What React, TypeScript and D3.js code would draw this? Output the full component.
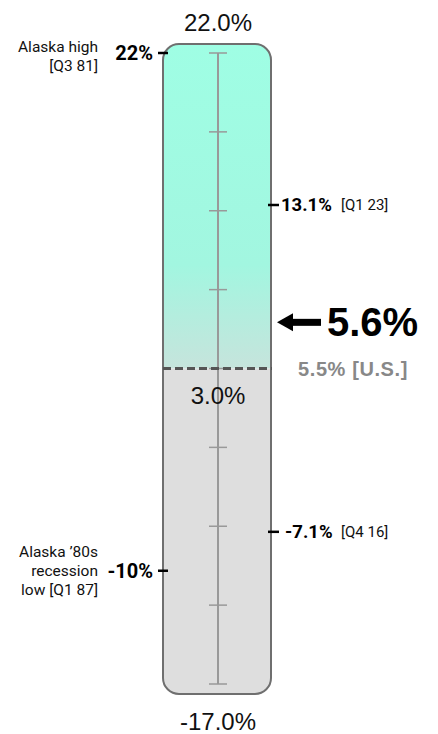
import React from 'react';
import * as d3 from 'd3';

// Scale end points and headline values
const scaleTop = 22;
const scaleBottom = -17;
const fillLevel = 2.5;
const topLabel = '22.0%';
const midLabel = '3.0%';
const bottomLabel = '-17.0%';
const current = 5.6;
const currentLabel = '5.6%';
const usLabel = '5.5% [U.S.]';

// Left side records
const leftValues = [22, -10];
const leftTags = ['22%', '-10%'];
const leftNotes = [['Alaska high', '[Q3 81]'], ['Alaska \u201980s', 'recession', 'low [Q1 87]']];

// Right side recent marks
const rightValues = [13.1, -7.1];
const rightTags = ['13.1%', '-7.1%'];
const rightNotes = ['[Q1 23]', '[Q4 16]'];

const W = 438;
const H = 734;

const App: React.FC = () => {
  const y = d3.scaleLinear().domain([scaleTop, scaleBottom]).range([53, 684]);
  const cx = 218;
  const bx0 = 163;
  const bx1 = 271;
  const tickVals = d3.range(9).map(i => d3.interpolateNumber(scaleTop, scaleBottom)(i / 8));
  const fillY = y(fillLevel);
  const rightShift = 8; // right-hand marks sit a little lower in the original
  const sans = '"Liberation Sans", Arial, sans-serif';
  const rob = 'Roboto, sans-serif';

  return (
    <svg width={W} height={H} style={{ position: 'absolute', left: 0, top: 0 }}>
      <defs>
        <linearGradient id="gr" x1="0" y1="44" x2="0" y2={fillY} gradientUnits="userSpaceOnUse">
          <stop offset="0" stopColor="#9ffee4" />
          <stop offset="0.68" stopColor="#a2f6e0" />
          <stop offset="1" stopColor="#c6e4dc" />
        </linearGradient>
        <clipPath id="tube">
          <rect x={bx0} y={44} width={bx1 - bx0} height={650} rx={16} />
        </clipPath>
      </defs>

      <g clipPath="url(#tube)">
        <rect x={bx0} y={44} width={bx1 - bx0} height={fillY - 44} fill="url(#gr)" />
        <rect x={bx0} y={fillY} width={bx1 - bx0} height={694 - fillY} fill="#dedede" />
      </g>
      <rect x={bx0} y={44} width={bx1 - bx0} height={650} rx={16} fill="none" stroke="#6f6f6f" strokeWidth={2} />

      {/* inner axis */}
      <line x1={cx} x2={cx} y1={y(scaleTop)} y2={y(scaleBottom)} stroke="#999" strokeWidth={2} />
      {tickVals.map((v, i) => (
        <line key={i} x1={cx - 9} x2={cx + 9} y1={y(v)} y2={y(v)} stroke="#999" strokeWidth={1.5} />
      ))}

      <line x1={bx0} x2={bx1 + 1} y1={fillY} y2={fillY} stroke="#555" strokeWidth={3} strokeDasharray="8,4" />

      <text x={cx} y={22} textAnchor="middle" dominantBaseline="central" fontFamily={sans} fontSize={24} fill="#111">{topLabel}</text>
      <text x={cx} y={395} textAnchor="middle" dominantBaseline="central" fontFamily={sans} fontSize={24} fill="#111">{midLabel}</text>
      <text x={cx} y={721} textAnchor="middle" dominantBaseline="central" fontFamily={sans} fontSize={24} fill="#111">{bottomLabel}</text>

      {leftValues.map((v, i) => (
        <g key={i}>
          <line x1={bx0 - 5} x2={bx0 + 5} y1={y(v)} y2={y(v)} stroke="#000" strokeWidth={2.5} />
          <text x={bx0 - 10} y={y(v)} textAnchor="end" dominantBaseline="central" fontFamily={rob} fontWeight="bold" fontSize={20} fill="#000">{leftTags[i]}</text>
          {leftNotes[i].map((t, j) => (
            <text key={j} x={98} y={y(v) + (j - (leftNotes[i].length - 1) / 2) * 19 + (leftNotes[i].length === 2 ? 3 : 0)} textAnchor="end" dominantBaseline="central" fontFamily={rob} fontSize={15.5} fill="#111">{t}</text>
          ))}
        </g>
      ))}

      {rightValues.map((v, i) => (
        <g key={i}>
          <line x1={bx1 - 3} x2={bx1 + 8} y1={y(v) + rightShift} y2={y(v) + rightShift} stroke="#000" strokeWidth={2.5} />
          <text x={bx1 + (v < 0 ? 14 : 10)} y={y(v) + rightShift} dominantBaseline="central" fontFamily={rob} fontWeight="bold" fontSize={18.5} fill="#000">{rightTags[i]}</text>
          <text x={341} y={y(v) + rightShift} dominantBaseline="central" fontFamily={rob} fontSize={15} fill="#111">{rightNotes[i]}</text>
        </g>
      ))}

      {/* current value arrow */}
      <g transform={`translate(0,${y(current) + 4})`}>
        <line x1={290} x2={321} y1={0} y2={0} stroke="#000" strokeWidth={7} />
        <path d="M277,0 L293,-9 L293,9 Z" fill="#000" />
        <text x={327} y={0} dominantBaseline="central" fontFamily={sans} fontWeight="bold" fontSize={40} fill="#000">{currentLabel}</text>
      </g>
      <text x={298} y={fillY} dominantBaseline="central" fontFamily={sans} fontWeight="bold" fontSize={20} letterSpacing={0.6} fill="#888">{usLabel}</text>
    </svg>
  );
};

export default App;
